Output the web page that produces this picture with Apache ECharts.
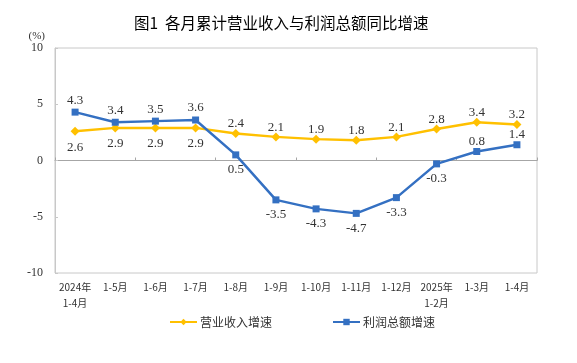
<!DOCTYPE html>
<html>
<head>
<meta charset="utf-8">
<script src="https://cdn.jsdelivr.net/npm/echarts@6/dist/echarts.min.js"></script>
<style>html,body{margin:0;padding:0;background:#fff}#c{width:577px;height:363px}</style>
</head>
<body>
<div id="c"></div>
<script>
const categories = ['2024年\n1-4月','1-5月','1-6月','1-7月','1-8月','1-9月','1-10月','1-11月','1-12月','2025年\n1-2月','1-3月','1-4月'];
const revenueGrowth = [2.6, 2.9, 2.9, 2.9, 2.4, 2.1, 1.9, 1.8, 2.1, 2.8, 3.4, 3.2];
const profitGrowth = [4.3, 3.4, 3.5, 3.6, 0.5, -3.5, -4.3, -4.7, -3.3, -0.3, 0.8, 1.4];
const yTicks = [-10, -5, 0, 5, 10];

const revPos = ['bottom','bottom','bottom','bottom','top','top','top','top','top','top','top','top'];
const profPos = ['top','top','top','top','bottom','bottom','bottom','bottom','bottom','bottom','top','top'];
const revDist = [5, 5, 5, 5, -1.5, -1.5, -1.5, -1.5, -1.5, -1.5, -1.5, -1.5];
const profDist = [2, 2, 2, 2, 5, 5, 5, 5, 5, 5, 0, 0];

const serif = '"Liberation Serif", "Times New Roman", serif';
const cjk = '"Noto Sans CJK SC", sans-serif';
const labelStyle = {show: true, fontFamily: serif, fontSize: 13, color: '#333', formatter: p => p.value.toFixed(1)};

const chart = echarts.init(document.getElementById('c'));
chart.setOption({
  animation: false,
  title: {
    text: '图1  各月累计营业收入与利润总额同比增速',
    left: 129, top: 10,
    textStyle: {fontFamily: cjk, fontSize: 15.5, fontWeight: 'normal', color: '#000'}
  },
  legend: {
    bottom: 30, left: 164, itemGap: 60, itemWidth: 27, itemHeight: 8,
    textStyle: {fontFamily: cjk, fontSize: 12, color: '#333', padding: [0, 0, 0, -2]},
    lineStyle: {width: 2},
    data: ['营业收入增速', '利润总额增速']
  },
  grid: {left: 55, right: 40, top: 48, bottom: 90, show: true, borderColor: '#c8c8c8', borderWidth: 1},
  xAxis: [{
    type: 'category', data: categories, position: 'bottom',
    axisLine: {show: false, onZero: false}, axisTick: {show: false},
    axisLabel: {fontFamily: cjk, fontSize: 10, color: '#333', margin: 6, lineHeight: 16, interval: 0}
  }, {
    type: 'category', data: categories, position: 'bottom',
    axisLine: {show: true, onZero: true, lineStyle: {color: '#a6a6a6', width: 1}},
    axisTick: {show: true, inside: true, length: 3, lineStyle: {color: '#a6a6a6'}},
    axisLabel: {show: false}
  }],
  yAxis: {
    type: 'value', min: yTicks[0], max: yTicks[yTicks.length - 1], interval: 5,
    name: '(%)', nameLocation: 'end', nameGap: 4,
    nameTextStyle: {fontFamily: serif, fontSize: 11, color: '#333', align: 'right', padding: [0, 10, 0, 0]},
    axisLine: {show: true, lineStyle: {color: '#c8c8c8'}},
    axisTick: {show: true, inside: true, length: 3, lineStyle: {color: '#c8c8c8'}},
    splitLine: {show: false},
    axisLabel: {fontFamily: serif, fontSize: 12, color: '#333', margin: 12}
  },
  series: [{
    name: '营业收入增速', type: 'line', xAxisIndex: 0,
    data: revenueGrowth.map((v, i) => ({value: v, label: {position: revPos[i], distance: revDist[i]}})),
    symbol: 'diamond', symbolSize: 9,
    lineStyle: {color: '#FFC000', width: 2.5}, itemStyle: {color: '#FFC000'},
    label: labelStyle, z: 3
  }, {
    name: '利润总额增速', type: 'line', xAxisIndex: 0,
    data: profitGrowth.map((v, i) => ({value: v, label: {position: profPos[i], distance: profDist[i]}})),
    symbol: 'rect', symbolSize: 7,
    lineStyle: {color: '#3470C2', width: 2.5}, itemStyle: {color: '#3470C2'},
    label: labelStyle, z: 4
  }]
});
</script>
</body>
</html>
